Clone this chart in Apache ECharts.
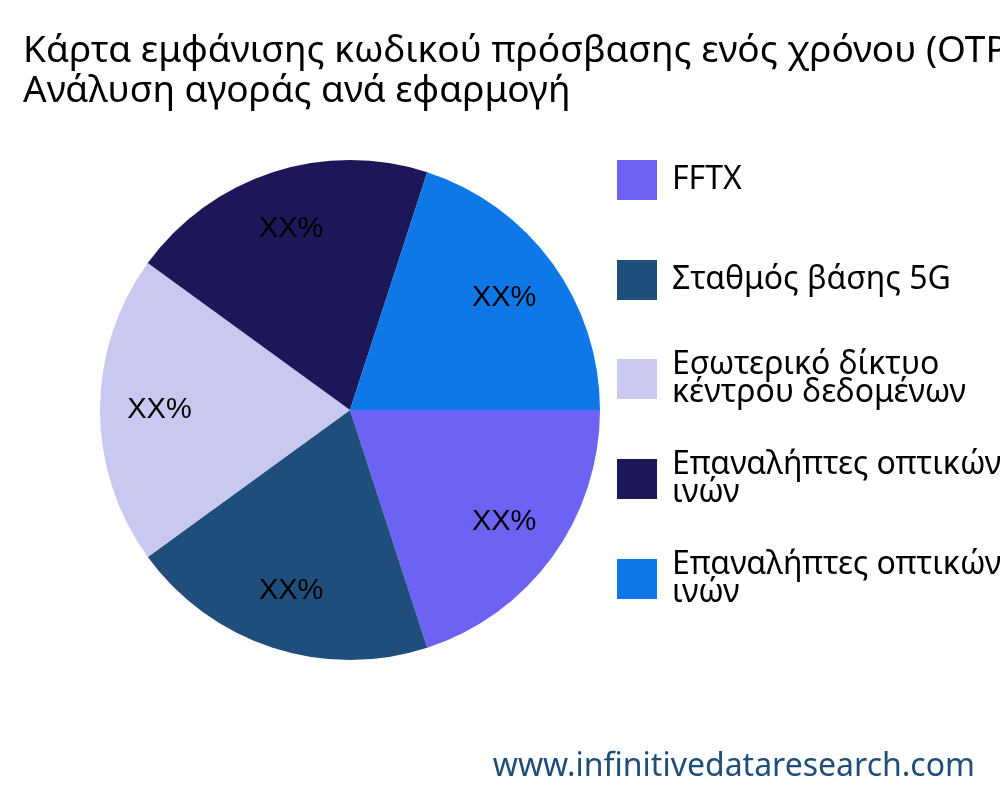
<!DOCTYPE html>
<html><head><meta charset="utf-8">
<script src="https://cdn.jsdelivr.net/npm/echarts@6/dist/echarts.min.js"></script>
<style>html,body{margin:0;padding:0;background:#fff}#c{width:1000px;height:800px}</style>
</head><body><div id="c"></div>
<script>
const titleLines = ["Κάρτα εμφάνισης κωδικού πρόσβασης ενός χρόνου (OTP)", "Ανάλυση αγοράς ανά εφαρμογή"];
const categories = ["FFTX", "Σταθμός βάσης 5G", "Εσωτερικό δίκτυο\nκέντρου δεδομένων", "Επαναλήπτες οπτικών\nινών", "Επαναλήπτες οπτικών\nινών "];
const values = [20, 20, 20, 20, 20];
const labels = ["XX%", "XX%", "XX%", "XX%", "XX%"];
const colors = ["#6c63f5", "#1f4e7c", "#c8c8f0", "#1c1758", "#0e78e8"];
const chart = echarts.init(document.getElementById('c'));
chart.setOption({
  animation: false,
  title: [{text: titleLines.join("\n"), left: 18, top: 26, textStyle: {fontFamily: "Noto Sans", fontSize: 37, fontWeight: "normal", color: "#000", lineHeight: 40}},
          {text: "www.infinitivedataresearch.com", right: 20, top: 746, textStyle: {fontFamily: "Noto Sans", fontSize: 32, fontWeight: "normal", color: "#1f4e79"}}],
  legend: categories.map((c, i) => ({orient: "vertical", left: 612, top: (i >= 2 ? 144 : 155) + 100 * i, itemWidth: 40, itemHeight: 40, icon: "rect",
    textStyle: {fontFamily: "Noto Sans", fontSize: 32, color: "#000", lineHeight: 28, padding: [0,0,0,10]}, data: [c]})),
  series: [{type: "pie", center: [350, 410], radius: 250, startAngle: 0, clockwise: true,
    label: {show: false}, labelLine: {show: false},
    data: categories.map((n, i) => ({name: n, value: values[i], itemStyle: {color: colors[i]}}))},
   {type: "pie", center: [350, 410], radius: [125, 250], startAngle: 0, clockwise: true, silent: true,
    label: {position: "inside", fontFamily: "Liberation Sans", fontSize: 29, color: "#000",
      formatter: p => labels[p.dataIndex]},
    labelLine: {show: false}, itemStyle: {color: "transparent"},
    data: categories.map((n, i) => ({name: n + " ", value: values[i]}))}]
});
</script></body></html>
